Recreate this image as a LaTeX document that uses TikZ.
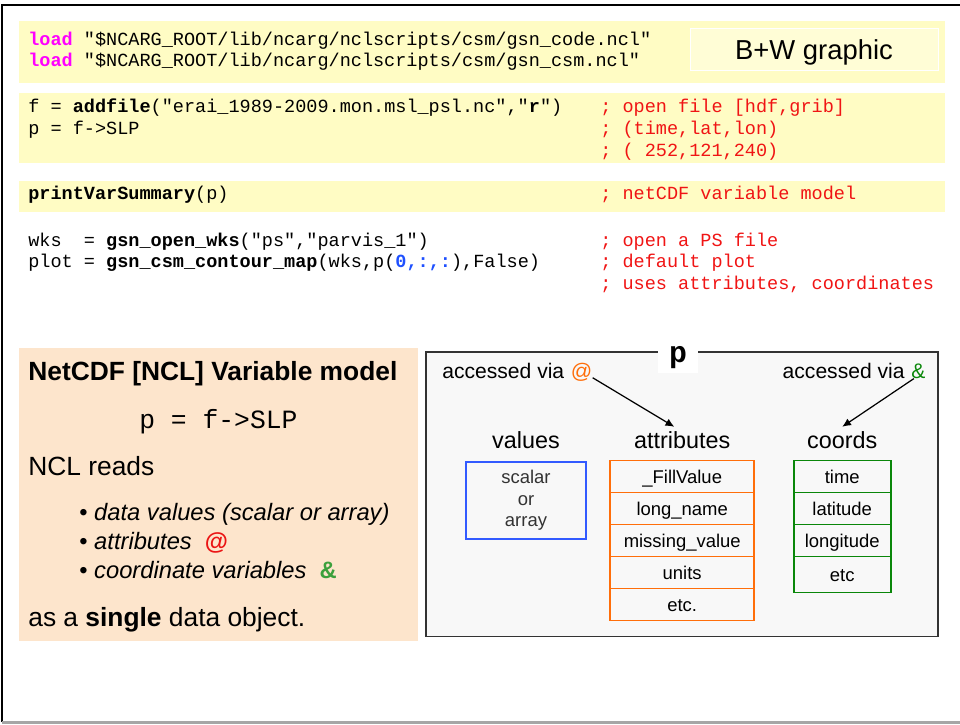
\documentclass[tikz,border=0pt]{standalone}
\usepackage{fontspec}
\setmainfont{Liberation Sans}
\newfontfamily\codefont{Liberation Mono}
\usetikzlibrary{positioning,arrows.meta}
\definecolor{codebg}{RGB}{255,252,196}
\definecolor{bwbg}{RGB}{255,253,214}
\definecolor{peach}{RGB}{253,229,204}
\definecolor{panelbg}{RGB}{248,248,248}
\definecolor{loadmag}{RGB}{255,0,255}
\definecolor{cmtred}{RGB}{240,20,20}
\definecolor{idxblue}{RGB}{30,80,255}
\definecolor{attrorange}{RGB}{255,110,10}
\definecolor{valblue}{RGB}{50,90,255}
\definecolor{coordgreen}{RGB}{10,135,10}
\definecolor{ampgreen}{RGB}{60,160,60}
\definecolor{atred}{RGB}{235,20,20}
\begin{document}
\begin{tikzpicture}[x=0.02cm, y=-0.02cm,
  codeline/.style={anchor=base west, inner sep=0pt, font=\codefont\fontsize{10.55}{12}\selectfont},
  comment/.style={codeline, text=cmtred},
  bigtext/.style={anchor=base west, inner sep=0pt, font=\fontsize{15}{18}\selectfont},
  bullettext/.style={anchor=base west, inner sep=0pt, font=\fontsize{13.5}{16}\selectfont},
  viatext/.style={inner sep=0pt, font=\fontsize{12}{14}\selectfont},
  header/.style={anchor=base, inner sep=0pt, font=\fontsize{13.3}{16}\selectfont},
  boxcell/.style={draw, line width=1.1pt, outer sep=0pt, inner sep=0pt, font=\fontsize{10.5}{11.6}\selectfont, text height=0.9em, text depth=0.12em},
  attrcell/.style={boxcell, draw=attrorange, minimum width=2.886cm, minimum height=0.64cm},
  coordcell/.style={boxcell, draw=coordgreen, minimum width=1.94cm, minimum height=0.64cm},
  accarrow/.style={-{Latex[length=5pt,width=4.5pt]}, line width=0.7pt}]
  \useasboundingbox (0,0) rectangle (960,724);
  % Frame
  \draw[line width=1.2pt] (2,722) -- (2,5) -- (960,5);
  \draw[gray!70, line width=1.2pt] (2,722.5) -- (960,722.5);
  % Code
  \fill[codebg] (19,21) rectangle (945,83);
  \fill[codebg] (19,93) rectangle (945,163);
  \fill[codebg] (19,181) rectangle (945,211.7);
  \node[draw=white, fill=bwbg, minimum width=4.966cm, minimum height=0.848cm, text depth=0pt, font=\fontsize{15.6}{19}\selectfont] at (814,49.5) (bw) {B+W graphic};
  \node[codeline] at (28,45) (k1) {\textcolor{loadmag}{\textbf{load}} "\$NCARG\_ROOT/lib/ncarg/nclscripts/csm/gsn\_code.ncl"};
  \node[codeline] at (28,66) (k2) {\textcolor{loadmag}{\textbf{load}} "\$NCARG\_ROOT/lib/ncarg/nclscripts/csm/gsn\_csm.ncl"};
  \node[codeline] at (28,112.7) (k3) {f = \textbf{addfile}("erai\_1989-2009.mon.msl\_psl.nc","\textbf{r}")};
  \node[codeline] at (28,134) (k4) {p = f->SLP};
  \node[comment] at (600,112.7) (m1) {; open file [hdf,grib]};
  \node[comment] at (600,134) (m2) {; (time,lat,lon)};
  \node[comment] at (600,156) (m3) {; ( 252,121,240)};
  \node[codeline] at (28,199.3) (k5) {\textbf{printVarSummary}(p)};
  \node[comment] at (600,199.3) (m4) {; netCDF variable model};
  \node[codeline] at (28,246) (k6) {wks\ \ = \textbf{gsn\_open\_wks}("ps","parvis\_1")};
  \node[codeline] at (28,267.7) (k7) {plot = \textbf{gsn\_csm\_contour\_map}(wks,p(\textcolor{idxblue}{\textbf{0,:,:}}),False)};
  \node[comment] at (600,246) (m5) {; open a PS file};
  \node[comment] at (600,267.7) (m6) {; default plot};
  \node[comment] at (600,289.3) (m7) {; uses attributes, coordinates};
  % Variable model
  \fill[peach] (19,348) rectangle (418,640.7);
  \node[bigtext, font=\fontsize{15}{18}\selectfont\bfseries] at (28,380) (t1) {NetCDF [NCL] Variable model};
  \node[bigtext, font=\codefont\fontsize{15}{18}\selectfont] at (139,428.3) (t2) {p = f->SLP};
  \node[bigtext] at (28,475.7) (t3) {NCL reads};
  \node[bullettext] at (79,520) (b1) {• \textit{data values (scalar or array)}};
  \node[bullettext] at (79,549) (b2) {• \textit{attributes}\ \ \textcolor{atred}{\textbf{@}}};
  \node[bullettext] at (79,578.3) (b3) {• \textit{coordinate variables}\ \ \textcolor{ampgreen}{\textbf{\&}}};
  \node[bigtext] at (28,626.7) (t4) {as a \textbf{single} data object.};
  % Variable p
  \draw[fill=panelbg, draw=black!80, line width=1pt] (426,352) rectangle (938,636.5);
  \node[fill=white, inner sep=0pt, minimum width=0.794cm, minimum height=0.494cm, text height=0.45em, text depth=0.2em, font=\codefont\bfseries\fontsize{17}{20}\selectfont] at (678,360.3) (pname) {p};
  \node[viatext, anchor=base west] at (442,378) (accL) {accessed via};
  \node[viatext, base right=0.12cm of accL, text=attrorange] (atR) {@};
  \node[viatext, anchor=base east, text=coordgreen] at (925.7,378) (ampR) {\&};
  \node[viatext, base left=0.12cm of ampR] (accR) {accessed via};
  \node[header] at (526,448.3) (hv) {values};
  \node[header] at (682.2,448.3) (ha) {attributes};
  \node[header] at (842.2,448.3) (hc) {coords};
  \node[draw=valblue, line width=1.1pt, minimum width=2.412cm, minimum height=1.546cm, align=center, text=black!80, font=\fontsize{10.5}{12.2}\selectfont] at (526,500.5) (vbox) {scalar\\or\\array};
  \node[attrcell] at (682.2,476.5) (a1) {\_FillValue};
  \node[attrcell, below=0pt of a1] (a2) {long\_name};
  \node[attrcell, below=0pt of a2] (a3) {missing\_value};
  \node[attrcell, below=0pt of a3] (a4) {units};
  \node[attrcell, below=0pt of a4] (a5) {etc.};
  \node[coordcell] at (842.2,476.5) (c1) {time};
  \node[coordcell, below=0pt of c1] (c2) {latitude};
  \node[coordcell, below=0pt of c2] (c3) {longitude};
  \node[coordcell, below=0pt of c3, minimum height=0.72cm] (c4) {etc};
  % Arrows
  \draw[accarrow] ([yshift=2pt]atR.south east) -- ([xshift=-4.5pt,yshift=2.4pt]ha.north);
  \draw[accarrow] ([xshift=-2.5pt]ampR.south) -- ([yshift=2.4pt]hc.north);
\end{tikzpicture}
\end{document}
